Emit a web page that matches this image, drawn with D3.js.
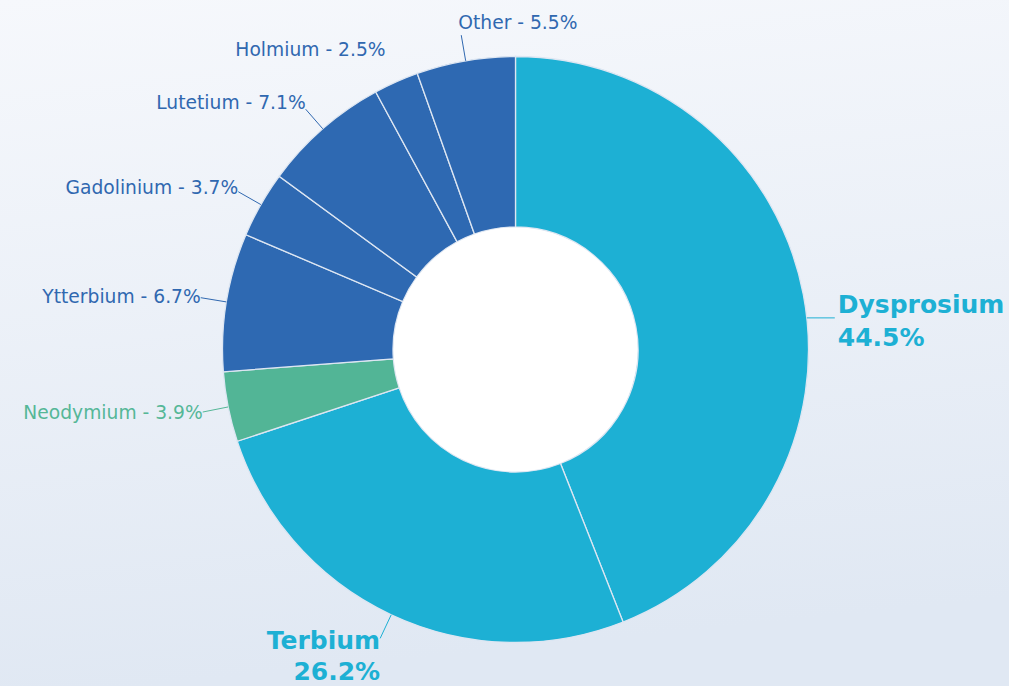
<!DOCTYPE html>
<html>
<head>
<meta charset="utf-8">
<script src="https://cdn.jsdelivr.net/npm/d3@7"></script>
<style>
html,body{margin:0;padding:0;}
body{width:1009px;height:686px;overflow:hidden;}
</style>
</head>
<body>
<div class="donut-container"></div>
<script>
//////////////////////data//////////////////////
var names = ["Dysprosium","Terbium","Neodymium","Ytterbium","Gadolinium","Lutetium","Holmium","Other"];
// slice sizes as drawn (Ytterbium slice is drawn as 7.7 although labelled 6.7)
var values = [44.5, 26.2, 3.9, 7.7, 3.7, 7.1, 2.5, 5.5];
var pctLabels = ["44.5%","26.2%","3.9%","6.7%","3.7%","7.1%","2.5%","5.5%"];
var groups = ["main","main","green","blue","blue","blue","blue","blue"];
var bigLabel = [true,true,false,false,false,false,false,false];
var showConnector = [true,true,true,true,true,true,false,true];

//////////////////////style//////////////////////
var W = 1009, H = 686;
var cx = 515.5, cy = 349.5;
var outerR = 293, innerR = 122.5, labelR = 319;
var color = d3.scaleOrdinal()
    .domain(["main","green","blue"])
    .range(["#1db0d4","#52b596","#2e69b2"]);
var textColor = d3.scaleOrdinal()
    .domain(["main","green","blue"])
    .range(["#1db0d4","#55b797","#3068b0"]);
var FONT = "'DejaVu Sans', sans-serif";

var svg = d3.select(".donut-container").append("svg")
    .attr("width", W).attr("height", H);

//背景グラデーション
var grad = svg.append("defs").append("linearGradient")
    .attr("id","bg").attr("x1",0).attr("y1",0).attr("x2",0.15).attr("y2",1);
grad.append("stop").attr("offset","0%").attr("stop-color","#f6f8fc");
grad.append("stop").attr("offset","100%").attr("stop-color","#e0e8f3");
svg.append("rect").attr("width",W).attr("height",H).attr("fill","url(#bg)");

var rows = names.map(function(n,i){
    return {name:n, value:values[i], pct:pctLabels[i], group:groups[i], big:bigLabel[i], conn:showConnector[i]};
});

var pie = d3.pie().sort(null).value(function(d){return d.value;});
var arcs = pie(rows);
var arc = d3.arc().innerRadius(innerR).outerRadius(outerR);

var g = svg.append("g").attr("transform","translate("+cx+","+cy+")");

// slices
g.selectAll("path.slice")
    .data(arcs)
    .enter()
    .append("path")
    .attr("class","slice")
    .attr("d", arc)
    .attr("fill", function(d){return color(d.data.group);})
    .attr("stroke", "#dde6f2")
    .attr("stroke-width", 1.3);

// white hole
g.append("circle").attr("r", innerR - 0.5).attr("fill","#ffffff");

//////////////////////labels//////////////////////
function polar(r, a){
    return [r*Math.sin(a), -r*Math.cos(a)];
}
// the right hand label sits a bit lower than its mid angle
var labelNudge = {Dysprosium: 28};

arcs.forEach(function(d){
    var mid = (d.startAngle + d.endAngle)/2;
    var s = Math.sin(mid), c = Math.cos(mid);
    var col = textColor(d.data.group);
    var edge = polar(outerR, mid);
    var anchor = polar(labelR, mid);

    if(d.data.big){
        var lines = [d.data.name, d.data.pct];
        var t;
        if(s > 0){
            // right side: horizontal connector
            var ly = anchor[1] + (labelNudge[d.data.name] || 0);
            var ex = Math.sqrt(outerR*outerR - ly*ly);
            var lx = ex + 28;
            g.append("line")
                .attr("x1", ex).attr("y1", ly).attr("x2", lx).attr("y2", ly)
                .attr("stroke", col).attr("stroke-width", 1);
            t = g.append("text")
                .attr("x", lx + 3).attr("text-anchor","start");
            lines.forEach(function(l,i){
                t.append("tspan").attr("x", lx + 3)
                    .attr("y", ly - 13 + i*33)
                    .attr("dominant-baseline","central").text(l);
            });
        } else {
            g.append("line")
                .attr("x1", edge[0]).attr("y1", edge[1])
                .attr("x2", anchor[0]).attr("y2", anchor[1])
                .attr("stroke", col).attr("stroke-width", 1);
            t = g.append("text").attr("text-anchor","end");
            lines.forEach(function(l,i){
                t.append("tspan").attr("x", anchor[0])
                    .attr("y", anchor[1] + 2 + i*31)
                    .attr("dominant-baseline","central").text(l);
            });
        }
        t.attr("font-family", FONT).attr("font-weight","bold")
            .attr("font-size", "25px").attr("fill", col);
        return;
    }

    if(d.data.conn){
        g.append("line")
            .attr("x1", edge[0]).attr("y1", edge[1])
            .attr("x2", anchor[0]).attr("y2", anchor[1])
            .attr("stroke", col).attr("stroke-width", 1);
    }
    var tx, ty, ta;
    if(Math.abs(s) < 0.3 && c > 0){
        // near the top
        tx = anchor[0] - 3; ty = anchor[1] - 13; ta = "start";
    } else if(s < 0){
        tx = anchor[0]; ty = anchor[1] - 9*Math.max(0, c); ta = "end";
    } else {
        tx = anchor[0]; ty = anchor[1]; ta = "start";
    }
    g.append("text")
        .attr("x", tx).attr("y", ty)
        .attr("text-anchor", ta)
        .attr("dominant-baseline","central")
        .attr("font-family", FONT)
        .attr("font-size", "18.7px")
        .attr("fill", col)
        .text(d.data.name + " - " + d.data.pct);
});
</script>
</body>
</html>
